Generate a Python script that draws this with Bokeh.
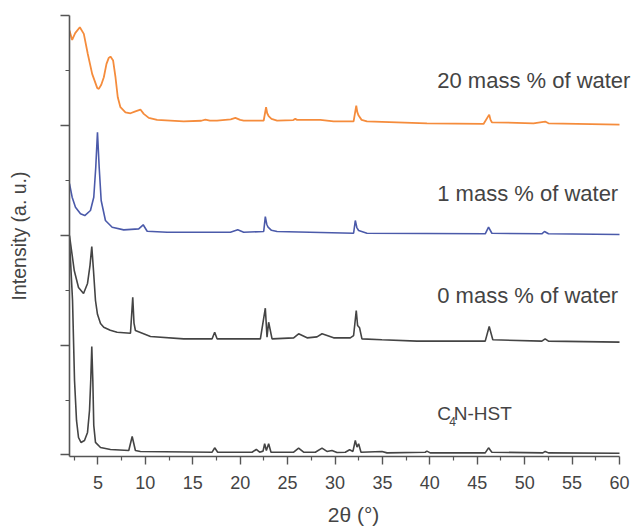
from bokeh.plotting import figure
from bokeh.models import Range1d, FixedTicker, Label
from bokeh.embed import file_html
from bokeh.resources import INLINE

# ---- data ----
two_theta_20 = [2.0, 2.28, 2.6, 3.09, 3.51, 3.93, 4.39, 4.92, 5.09, 5.35, 5.62, 5.90, 6.14, 6.32, 6.60, 6.85, 7.09, 7.37,
                7.90, 8.43, 8.95, 9.48, 9.83, 10.36, 11.24, 14.04, 15.9, 16.33, 16.8, 17.56, 19.0, 19.49, 20.0, 20.37,
                22.48, 22.73, 22.85, 23.00, 23.3, 23.89, 25.6, 25.81, 26.0, 28.45, 29.85, 31.96, 32.24, 32.35, 32.49,
                32.8, 33.37, 39.69, 45.66, 46.26, 46.4, 46.54, 50.93, 52.16, 52.51, 60.0]
intensity_20 = [3.863, 3.778, 3.84, 3.893, 3.833, 3.650, 3.469, 3.341, 3.332, 3.37, 3.438, 3.560, 3.614, 3.626, 3.590,
                3.438, 3.256, 3.165, 3.119, 3.110, 3.128, 3.144, 3.105, 3.068, 3.050, 3.037, 3.042, 3.052, 3.044,
                3.044, 3.055, 3.068, 3.05, 3.044, 3.044, 3.165, 3.11, 3.085, 3.06, 3.044, 3.048, 3.059, 3.050, 3.050,
                3.037, 3.037, 3.180, 3.12, 3.089, 3.05, 3.037, 3.019, 3.013, 3.098, 3.05, 3.028, 3.019, 3.035, 3.019,
                3.007]

two_theta_1 = [2.0, 2.28, 2.63, 3.16, 3.61, 4.21, 4.56, 4.77, 4.95, 5.13, 5.34, 5.79, 6.50, 7.72, 9.30, 9.77, 10.19,
               12.30, 18.97, 19.74, 20.37, 22.48, 22.65, 22.8, 22.94, 23.3, 23.89, 31.96, 32.14, 32.3, 32.49, 33.37,
               45.84, 46.19, 46.54, 51.81, 52.09, 52.51, 60.0]
intensity_1 = [2.47, 2.346, 2.255, 2.195, 2.179, 2.225, 2.346, 2.619, 2.937, 2.619, 2.316, 2.134, 2.073, 2.049, 2.058,
               2.095, 2.036, 2.027, 2.027, 2.049, 2.027, 2.034, 2.170, 2.10, 2.073, 2.045, 2.034, 2.018, 2.134, 2.07,
               2.043, 2.018, 2.013, 2.073, 2.018, 2.013, 2.034, 2.013, 2.007]

two_theta_0 = [2.0, 2.50, 2.95, 3.48, 3.90, 4.16, 4.35, 4.53, 4.74, 4.95, 5.27, 5.61, 6.3, 7.02, 8.43, 8.67, 8.8, 8.95,
               10.54, 14.04, 17.04, 17.31, 17.56, 22.13, 22.65, 22.83, 23.00, 23.36, 25.64, 26.16, 27.05, 28.10, 28.63,
               29.85, 31.61, 31.96, 32.24, 32.38, 32.59, 32.84, 34.95, 38.64, 45.84, 46.26, 46.64, 51.81, 52.16, 52.51,
               60.0]
intensity_0 = [1.997, 1.679, 1.524, 1.470, 1.561, 1.724, 1.897, 1.679, 1.406, 1.280, 1.197, 1.163, 1.135, 1.117, 1.108,
               1.436, 1.2, 1.133, 1.078, 1.057, 1.057, 1.117, 1.057, 1.057, 1.336, 1.072, 1.208, 1.057, 1.066, 1.103,
               1.066, 1.075, 1.103, 1.066, 1.066, 1.087, 1.315, 1.178, 1.157, 1.057, 1.048, 1.036, 1.036, 1.169, 1.048,
               1.036, 1.057, 1.036, 1.027]

two_theta_hst = [2.0, 2.32, 2.53, 2.74, 2.95, 3.21, 3.58, 3.90, 4.11, 4.24, 4.35, 4.46, 4.56, 4.74, 5.27, 6.32, 8.25,
                 8.61, 8.95, 9.48, 17.04, 17.31, 17.63, 21.25, 21.70, 22.05, 22.41, 22.58, 22.76, 23.00, 23.25, 25.64,
                 26.16, 26.69, 27.92, 28.63, 29.15, 29.68, 30.21, 31.08, 31.54, 31.89, 32.14, 32.32, 32.49, 32.74,
                 34.95, 35.48, 39.51, 39.69, 40.04, 45.84, 46.19, 46.54, 51.92, 52.16, 52.51, 60.0]
intensity_hst = [1.95, 1.406, 0.678, 0.314, 0.159, 0.114, 0.132, 0.205, 0.405, 0.678, 0.987, 0.678, 0.268, 0.114, 0.068,
                 0.050, 0.041, 0.168, 0.041, 0.032, 0.025, 0.065, 0.025, 0.025, 0.050, 0.025, 0.035, 0.102, 0.041,
                 0.102, 0.025, 0.025, 0.062, 0.025, 0.025, 0.062, 0.032, 0.041, 0.022, 0.025, 0.047, 0.032, 0.132,
                 0.071, 0.102, 0.025, 0.032, 0.019, 0.025, 0.035, 0.019, 0.019, 0.065, 0.025, 0.019, 0.032, 0.019,
                 0.016]

x_major = [5, 10, 15, 20, 25, 30, 35, 40, 45, 50, 55, 60]
x_minor = [2.5, 7.5, 12.5, 17.5, 22.5, 27.5, 32.5, 37.5, 42.5, 47.5, 52.5, 57.5]
y_major = [0, 1, 2, 3, 4]
y_minor = [0.5, 1.5, 2.5, 3.5]

series_labels = ["20 mass % of water", "1 mass % of water", "0 mass % of water"]
series_label_y = [3.408, 2.379, 1.451]

FONT = "Liberation Sans"
TXT = "#444444"
AX = "#555555"
LABEL_X = 40.78

# The frame reaches the right edge of the page so that the labels are not cut;
# the x axis itself is bounded to 2..60 as in the reference.
p = figure(width=637, height=528, output_backend="svg", toolbar_location=None,
           x_range=Range1d(2, 61.898), y_range=Range1d(-0.014, 4.0),
           min_border_left=69, min_border_right=0, min_border_top=15, min_border_bottom=72)
p.outline_line_color = None
p.grid.grid_line_color = None
p.background_fill_color = "white"

p.line(two_theta_20, intensity_20, line_color="#f58c3c", line_width=1.8)
p.line(two_theta_1, intensity_1, line_color="#4b5aaa", line_width=1.6)
p.line(two_theta_0, intensity_0, line_color="#444444", line_width=1.6)
p.line(two_theta_hst, intensity_hst, line_color="#444444", line_width=1.6)

# x axis
xa = p.xaxis[0]
xa.bounds = (2, 60)
xa.ticker = FixedTicker(ticks=x_major, minor_ticks=x_minor)
xa.axis_label = "2θ (°)"
xa.axis_label_text_font = FONT
xa.axis_label_text_font_size = "21px"
xa.axis_label_text_font_style = "normal"
xa.axis_label_text_color = TXT
xa.axis_label_standoff = 11
xa.major_label_text_font = FONT
xa.major_label_text_font_size = "18px"
xa.major_label_text_color = TXT
xa.major_label_standoff = 11
xa.axis_line_color = AX
xa.axis_line_width = 1.6
xa.major_tick_line_color = AX
xa.major_tick_line_width = 1.4
xa.minor_tick_line_color = AX
xa.minor_tick_line_width = 1.2
xa.major_tick_in = 0
xa.major_tick_out = 8
xa.minor_tick_in = 0
xa.minor_tick_out = 4

# y axis (no tick labels in the reference)
ya = p.yaxis[0]
ya.ticker = FixedTicker(ticks=y_major, minor_ticks=y_minor)
ya.axis_label = "Intensity (a. u.)"
ya.axis_label_text_font = FONT
ya.axis_label_text_font_size = "19.5px"
ya.axis_label_text_font_style = "normal"
ya.axis_label_text_color = TXT
ya.major_label_overrides = {0: "", 1: "", 2: "", 3: "", 4: ""}
ya.major_label_text_color = None
ya.major_label_standoff = 0
ya.axis_label_standoff = 31
ya.axis_line_color = AX
ya.axis_line_width = 1.6
ya.major_tick_line_color = AX
ya.major_tick_line_width = 1.4
ya.minor_tick_line_color = AX
ya.minor_tick_line_width = 1.2
ya.major_tick_in = 0
ya.major_tick_out = 9
ya.minor_tick_in = 0
ya.minor_tick_out = 4

for txt, yy in zip(series_labels, series_label_y):
    p.add_layout(Label(x=LABEL_X, y=yy, text=txt, text_font=FONT, text_font_size="22px",
                       text_color=TXT, text_baseline="middle", text_align="left"))

# C4N-HST with subscript 4
hst_y = 0.378
p.add_layout(Label(x=LABEL_X, y=hst_y, text="C", text_font=FONT, text_font_size="19px",
                   text_color=TXT, text_baseline="middle", text_align="left"))
p.add_layout(Label(x=LABEL_X, y=hst_y, x_offset=12, y_offset=-8, text="4", text_font=FONT,
                   text_font_size="12px", text_color=TXT, text_baseline="middle", text_align="left"))
p.add_layout(Label(x=LABEL_X, y=hst_y, x_offset=16.5, text="N-HST", text_font=FONT,
                   text_font_size="19px", text_color=TXT, text_baseline="middle", text_align="left"))

open("out.html", "w").write(file_html(p, INLINE))
